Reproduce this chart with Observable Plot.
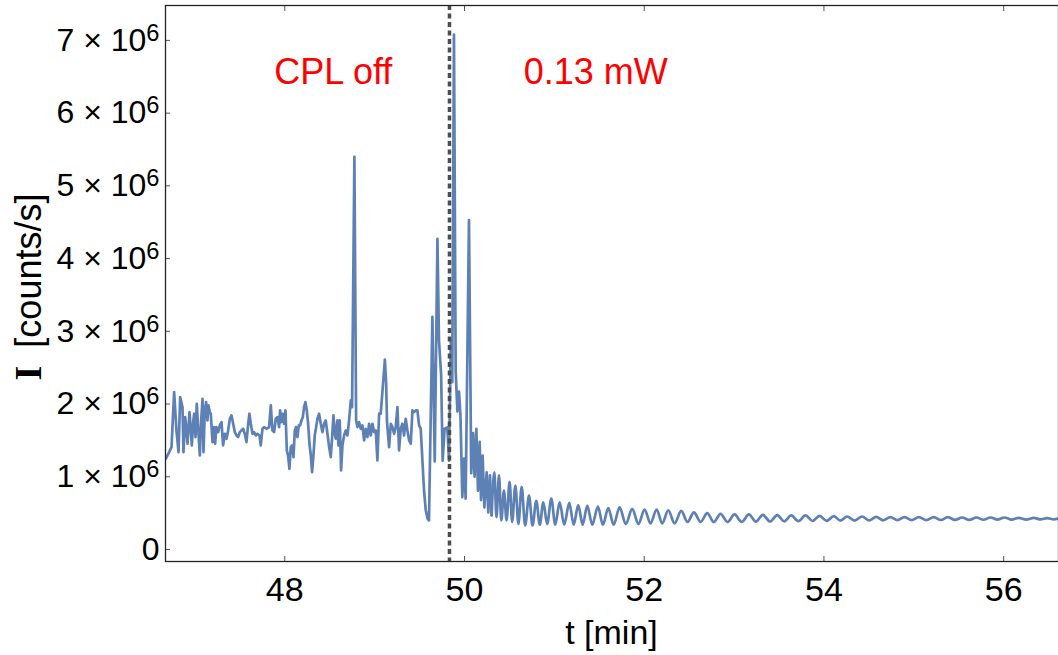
<!DOCTYPE html>
<html>
<head>
<meta charset="utf-8">
<script src="https://cdn.jsdelivr.net/npm/d3@7"></script>
<script src="https://cdn.jsdelivr.net/npm/@observablehq/plot@0.6"></script>
<style>
  html, body { margin: 0; padding: 0; background: #fff; }
  #chart svg { display: block; }
</style>
</head>
<body>
<div id="chart"></div>
<script>
// ---- data (intensity in units of 10^6 counts/s, time in minutes) ----
const tRaw = [
  46.677,46.714,46.740,46.769,46.795,46.818,46.836,46.862,46.873,46.892,
  46.907,46.918,46.940,46.955,46.966,46.981,46.992,47.007,47.021,47.036,
  47.055,47.070,47.085,47.096,47.110,47.125,47.140,47.151,47.166,47.177,
  47.196,47.214,47.225,47.240,47.259,47.277,47.296,47.314,47.333,47.352,
  47.370,47.389,47.407,47.426,47.444,47.463,47.481,47.500,47.518,47.537,
  47.555,47.574,47.593,47.607,47.622,47.641,47.659,47.678,47.696,47.719,
  47.733,47.752,47.770,47.800,47.826,47.845,47.863,47.882,47.900,47.919,
  47.937,47.948,47.963,47.978,47.993,48.008,48.023,48.037,48.052,48.067,
  48.082,48.097,48.112,48.126,48.141,48.156,48.171,48.186,48.201,48.215,
  48.230,48.245,48.260,48.275,48.290,48.304,48.319,48.334,48.349,48.364,
  48.382,48.401,48.419,48.438,48.456,48.475,48.494,48.512,48.531,48.542,
  48.557,48.568,48.586,48.597,48.612,48.627,48.642,48.660,48.679,48.698,
  48.716,48.735,48.749,
  48.775,
  48.794,48.809,48.827,48.846,48.864,48.883,48.901,48.920,48.939,48.957,
  48.976,48.994,49.013,49.031,49.050,49.068,
  49.095,49.114,49.128,49.138,
  49.161,49.180,49.198,49.217,49.235,49.254,49.272,49.291,49.309,49.328,
  49.346,49.365,49.384,49.402,49.421,49.439,49.458,49.476,49.495,
  49.513,49.550,49.569,49.590,49.605,
  49.643,49.669,49.699,49.716,49.740,49.757,49.779,49.809,49.828,49.848,
  49.864,49.883,49.902,49.921,49.939,49.955,49.976,49.995,50.013,50.050,
  50.075,50.095,50.112,50.132,50.150,50.169,50.184,50.202,50.221,50.247,
  50.265,50.284,50.302
];
const iRaw = [
  1.248,1.339,1.408,2.165,1.637,1.339,2.096,1.958,1.339,1.821,
  1.637,1.454,1.889,1.637,1.431,1.752,1.867,1.546,2.004,1.683,
  1.293,1.775,2.073,1.339,1.912,2.027,1.775,1.981,1.889,1.867,
  1.477,1.683,1.454,1.683,1.614,1.706,1.752,1.431,1.591,1.523,
  1.637,1.798,1.844,1.729,1.614,1.568,1.546,1.614,1.637,1.660,
  1.591,1.477,1.729,1.867,1.729,1.591,1.614,1.568,1.591,1.568,
  1.431,1.660,1.683,1.660,1.683,1.981,1.637,1.614,1.798,1.821,
  1.683,1.912,1.752,1.867,1.729,1.912,1.362,1.293,1.110,1.408,
  1.431,1.270,1.637,1.683,1.546,1.706,1.706,1.775,1.821,1.958,
  2.027,1.912,1.729,1.454,1.293,1.064,1.293,1.568,1.683,1.798,
  1.867,1.729,1.614,1.729,1.775,1.591,1.408,1.270,1.614,1.844,
  1.591,1.523,1.775,1.431,1.775,1.087,1.431,1.568,1.637,1.568,
  1.775,2.050,1.958,
  5.40,
  1.775,1.683,1.752,1.660,1.706,1.500,1.660,1.546,1.729,1.568,
  1.729,1.614,1.637,1.225,1.867,1.867,
  2.30,2.61,2.30,1.75,
  1.408,1.729,1.683,1.591,1.683,1.958,1.362,1.660,1.729,1.568,
  1.798,1.637,1.500,1.454,1.912,1.889,1.912,1.912,1.706,
  1.66,0.81,0.54,0.42,0.40,
  3.20,1.21,4.27,2.88,2.40,1.22,1.66,1.68,1.22,2.87,
  2.30,7.08,2.45,1.90,2.17,1.85,0.72,1.25,0.70,4.53,
  1.05,1.60,1.00,1.66,0.81,1.48,0.68,1.29,0.58,1.06,
  0.51,1.02,0.47
];
// damped oscillation after the laser is switched on (peaks / troughs)
const tOsc = [
  50.302,50.332,50.356,50.384,50.410,50.439,50.468,50.502,50.530,50.566,
  50.600,50.636,50.675,50.718,50.757,50.799,50.838,50.877,50.920,50.966,
  51.010,51.059,51.110,51.166,51.215,51.266,51.315,51.366,51.422,51.485,
  51.540,51.600,51.660,51.726,51.795,51.867,51.935,52.004,52.070,52.138,
  52.200,52.267,52.338,52.412,52.482,52.553,52.628,52.701,52.775,52.849,
  52.927,53.005,53.085,53.165,53.242,53.320,53.400,53.480,53.558,53.636,
  53.715,53.795,53.873,53.951,54.030,54.110,54.184,54.258,54.341,54.425,
  54.503,54.581,54.660,54.740,54.818,54.896,54.976,55.056,55.139,55.222,
  55.300,55.378,55.458,55.538,55.617,55.697,55.775,55.853,55.931,56.009,
  56.088,56.168,56.251,56.335,56.409,56.483,56.560,56.610
];
const iOsc = [
  0.47,1.06,0.445,1.02,0.40,0.81,0.40,0.93,0.38,0.88,
  0.35,0.86,0.33,0.74,0.33,0.67,0.34,0.65,0.35,0.70,
  0.34,0.65,0.34,0.64,0.34,0.61,0.34,0.60,0.34,0.59,
  0.34,0.57,0.34,0.58,0.35,0.56,0.35,0.55,0.36,0.55,
  0.36,0.54,0.36,0.53,0.38,0.51,0.38,0.500,0.376,0.491,
  0.378,0.482,0.380,0.482,0.383,0.477,0.385,0.472,0.388,0.468,
  0.390,0.468,0.392,0.463,0.394,0.459,0.396,0.454,0.398,0.454,
  0.399,0.449,0.401,0.445,0.403,0.445,0.404,0.445,0.405,0.445,
  0.406,0.445,0.407,0.440,0.408,0.440,0.409,0.440,0.410,0.440,
  0.411,0.436,0.412,0.436,0.413,0.431,0.414,0.425
];
const xTicks = [48, 50, 52, 54, 56];
const xTickLabels = ["48", "50", "52", "54", "56"];
const yTicks = [0, 1, 2, 3, 4, 5, 6, 7];
const yTickLabels = ["0", "1 × 10^6", "2 × 10^6", "3 × 10^6", "4 × 10^6", "5 × 10^6", "6 × 10^6", "7 × 10^6"];
const switchTime = [49.833];
const annotationText = ["CPL off", "0.13 mW"];
const annotationT = [48.54, 51.46];
const annotationI = [6.56, 6.56];
const xLabel = "t [min]";
const yLabelSymbol = "I";
const yLabelUnit = "[counts/s]";

// ---- build tables ----
const raw = tRaw.map((t, i) => ({t, v: iRaw[i]}));
const osc = tOsc.map((t, i) => ({t, v: iOsc[i]}));
const notes = annotationText.map((text, i) => ({text, t: annotationT[i], v: annotationI[i]}));

const FONT = "'Liberation Sans', Arial, Helvetica, sans-serif";
const W = 1058, H = 655, ML = 165, MR = 0, MT = 5, MB = 94;
const lineColor = "#5E81B5";

const chart = Plot.plot({
  width: W, height: H,
  marginLeft: ML, marginRight: MR, marginTop: MT, marginBottom: MB,
  style: {fontFamily: FONT, background: "#fff", color: "#000", overflow: "visible"},
  x: {domain: [46.673, 56.61]},
  y: {domain: [-0.165, 7.48]},
  marks: [
    Plot.line(raw, {x: "t", y: "v", stroke: lineColor, strokeWidth: 2.7, strokeLinejoin: "round", clip: true}),
    Plot.line(osc, {x: "t", y: "v", stroke: lineColor, strokeWidth: 2.7, curve: "monotone-x", clip: true}),
    Plot.ruleX(switchTime, {stroke: "#4d4d4d", strokeWidth: 3.5, strokeDasharray: "5,3.5"}),
    Plot.text(notes, {x: "t", y: "v", text: "text", fill: "#ff0000", fontSize: 36, fontFamily: FONT}),
    Plot.axisX({ticks: xTicks, tickFormat: d => xTickLabels[xTicks.indexOf(d)], tickSize: -5, tickPadding: 20,
      fontSize: 34, fill: "#000", stroke: "#555", label: null}),
    Plot.axisX({ticks: xTicks, anchor: "top", tickSize: -5, stroke: "#555", tickFormat: () => "", label: null}),
    Plot.axisY({ticks: yTicks, tickFormat: d => yTickLabels[yTicks.indexOf(d)], tickSize: -5, tickPadding: 11,
      fontSize: 32, fill: "#000", stroke: "#555", label: null}),
    Plot.frame({stroke: "#222", strokeWidth: 1.3})
  ]
});

document.getElementById("chart").appendChild(chart);

// superscript exponents in y tick labels
d3.select(chart).selectAll('g[aria-label="y-axis tick label"] text').each(function() {
  const s = this.textContent;
  const m = s.match(/^(.*)\^(\d+)$/);
  if (!m) return;
  const el = d3.select(this);
  el.text(null);
  el.append("tspan").text(m[1]);
  el.append("tspan").attr("dy", "-0.42em").attr("font-size", "0.74em").text(m[2]);
});

// axis titles
const svg = d3.select(chart);
svg.append("text")
  .attr("x", ML + (W - ML - MR) / 2).attr("y", 644)
  .attr("text-anchor", "middle").attr("font-family", FONT).attr("font-size", 34).attr("fill", "#000")
  .text(xLabel);
const yl = svg.append("text")
  .attr("transform", `translate(41,287) rotate(-90)`)
  .attr("text-anchor", "middle").attr("fill", "#000");
yl.append("tspan").attr("font-family", "'Liberation Serif', 'Times New Roman', serif").attr("font-weight", "bold").attr("font-size", 38).text(yLabelSymbol);
yl.append("tspan").attr("font-family", FONT).attr("font-size", 36).text("\u2002" + yLabelUnit);
</script>
</body>
</html>
